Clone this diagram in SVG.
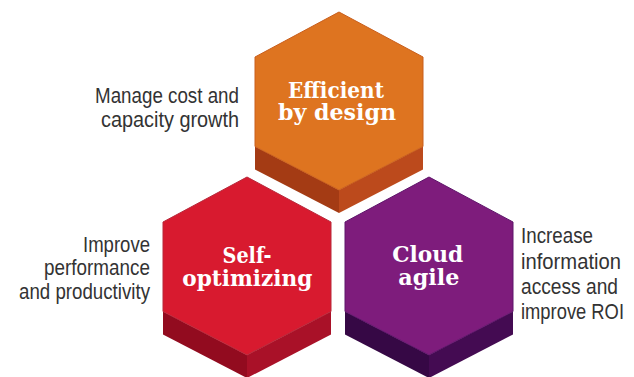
<svg xmlns="http://www.w3.org/2000/svg" width="634" height="377" viewBox="0 0 634 377">
<style>
.lbl{font-family:"Liberation Sans",Arial,sans-serif;font-size:22.5px;fill:#333333}
.ht{font-family:"DejaVu Serif","Liberation Serif",serif;font-weight:bold;font-size:22px;fill:#ffffff;text-anchor:middle}
.o-top{fill:#DE7420;stroke:#C95E1C;stroke-width:1}
.o-l{fill:#A43B14}
.o-r{fill:#BC4A1C}
.r-top{fill:#D81A2F;stroke:#B8283A;stroke-width:1}
.r-l{fill:#920B1F}
.r-r{fill:#A91128}
.p-top{fill:#7E1C7C;stroke:#5E146A;stroke-width:1}
.p-l{fill:#360845}
.p-r{fill:#440B52}
</style>
<rect width="634" height="377" fill="#ffffff"/>
<g id="connectors"/>
<g id="node-efficient">
<polygon class="o-l" points="255,146.5 339,190 339,213 255,169.5"/>
<polygon class="o-r" points="339,190 423,146.5 423,169.5 339,213"/>
<polygon class="o-top" points="339,12 423,57 423,146.5 339,190 255,146.5 255,57"/>
<text class="ht" x="336" y="97.5" textLength="96" lengthAdjust="spacingAndGlyphs">Efficient</text>
<text class="ht" x="337" y="119.5" textLength="118" lengthAdjust="spacingAndGlyphs">by design</text>
</g>
<g id="node-self">
<polygon class="r-l" points="163,311.5 247,355 247,378 163,334.5"/>
<polygon class="r-r" points="247,355 331,311.5 331,334.5 247,378"/>
<polygon class="r-top" points="247,177 331,222 331,311.5 247,355 163,311.5 163,222"/>
<text class="ht" x="247" y="262.5" textLength="49" lengthAdjust="spacingAndGlyphs">Self-</text>
<text class="ht" x="247.3" y="286" textLength="130" lengthAdjust="spacingAndGlyphs">optimizing</text>
</g>
<g id="node-cloud">
<polygon class="p-l" points="345,311.5 429,355 429,378 345,334.5"/>
<polygon class="p-r" points="429,355 513,311.5 513,334.5 429,378"/>
<polygon class="p-top" points="429,177 513,222 513,311.5 429,355 345,311.5 345,222"/>
<text class="ht" x="427.8" y="261.7" textLength="71" lengthAdjust="spacingAndGlyphs">Cloud</text>
<text class="ht" x="428.8" y="285" textLength="61" lengthAdjust="spacingAndGlyphs">agile</text>
</g>
<g id="label-efficient" class="lbl" text-anchor="end">
<text x="239" y="102.5" textLength="144" lengthAdjust="spacingAndGlyphs">Manage cost and</text>
<text x="239" y="127" textLength="138" lengthAdjust="spacingAndGlyphs">capacity growth</text>
</g>
<g id="label-self" class="lbl" text-anchor="end">
<text x="150" y="251.5" textLength="67" lengthAdjust="spacingAndGlyphs">Improve</text>
<text x="150" y="275" textLength="106" lengthAdjust="spacingAndGlyphs">performance</text>
<text x="150" y="298.5" textLength="131" lengthAdjust="spacingAndGlyphs">and productivity</text>
</g>
<g id="label-cloud" class="lbl">
<text x="521" y="243" textLength="72" lengthAdjust="spacingAndGlyphs">Increase</text>
<text x="521" y="268.5" textLength="100" lengthAdjust="spacingAndGlyphs">information</text>
<text x="521" y="294" textLength="97" lengthAdjust="spacingAndGlyphs">access and</text>
<text x="521" y="319" textLength="103" lengthAdjust="spacingAndGlyphs">improve ROI</text>
</g>
</svg>
